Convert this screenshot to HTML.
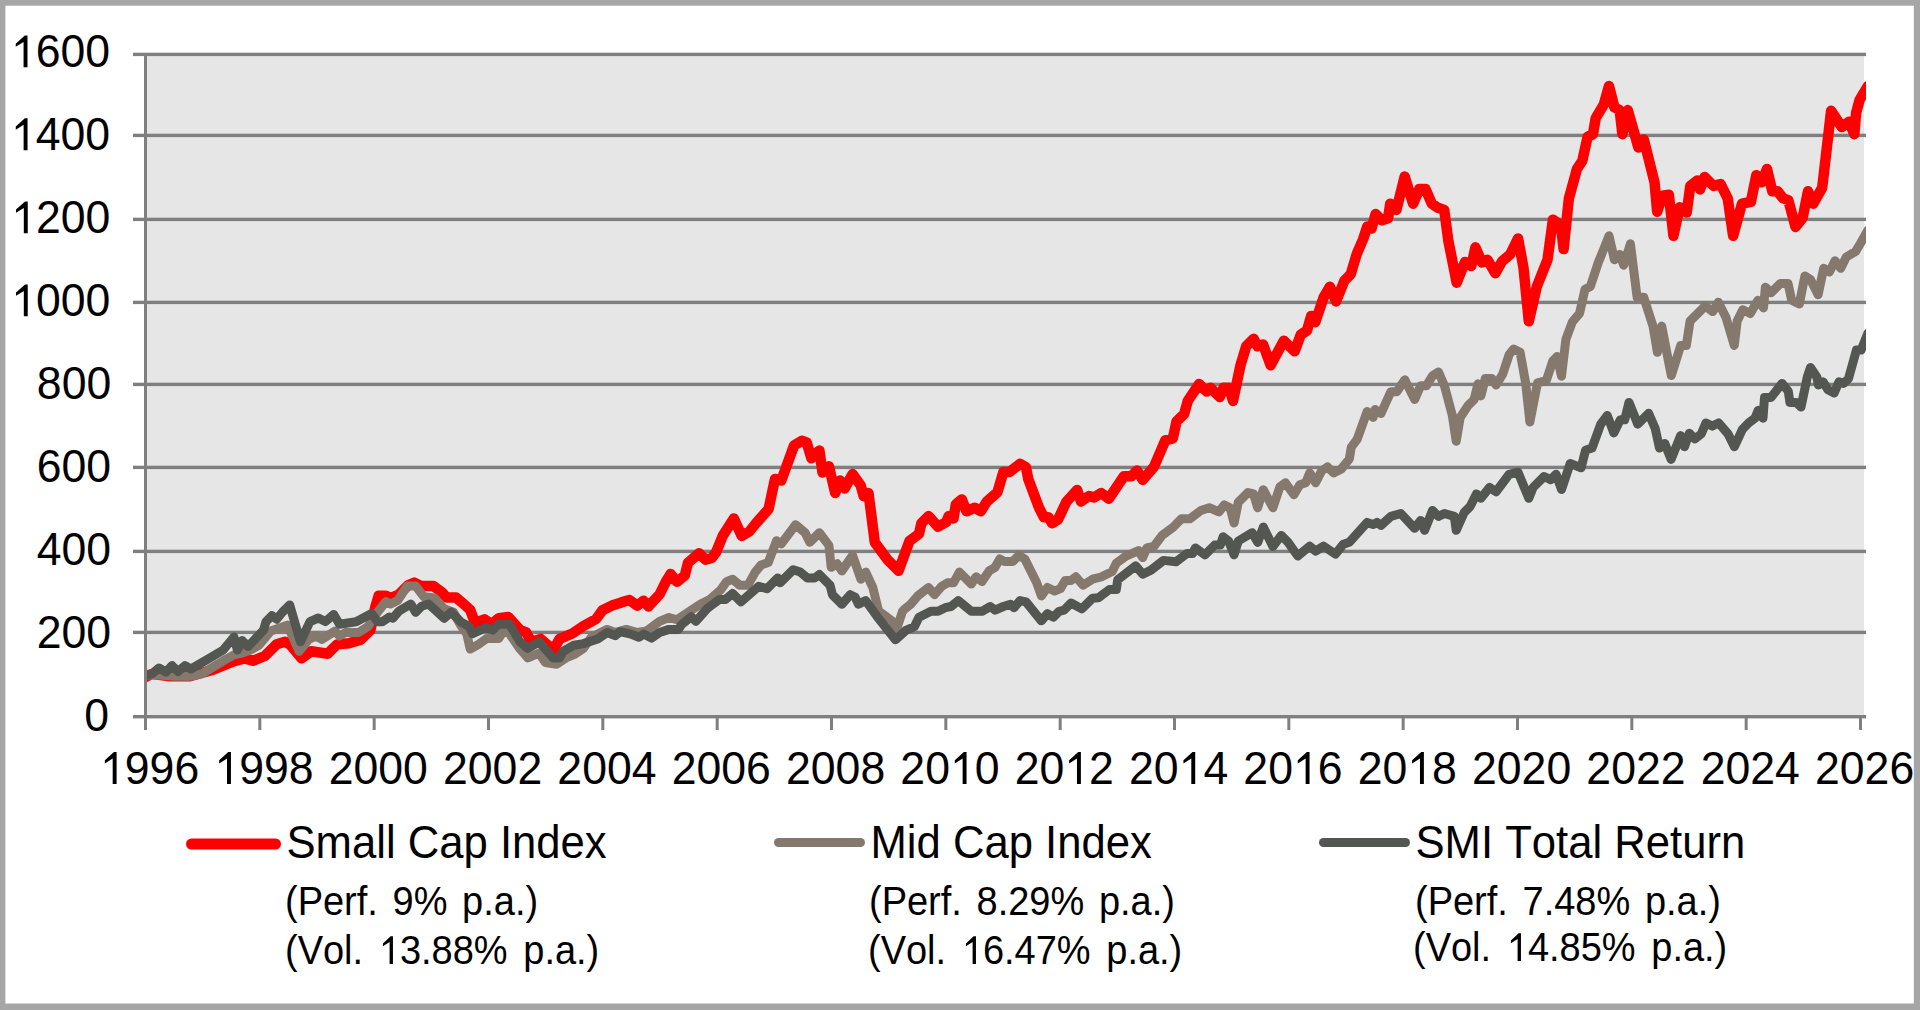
<!DOCTYPE html>
<html><head><meta charset="utf-8"><style>
html,body{margin:0;padding:0;width:1920px;height:1010px;overflow:hidden;background:#a6a6a6;}
svg{position:absolute;left:0;top:0;}
text{font-family:"Liberation Sans",sans-serif;fill:#000;font-kerning:none;}
</style></head><body>
<svg width="1920" height="1010" viewBox="0 0 1920 1010">
<defs><clipPath id="pc"><rect x="147" y="0" width="1719" height="718"/></clipPath></defs>
<rect x="5.4" y="5.7" width="1908.4" height="997.8" fill="#fff"/>
<rect x="147" y="55" width="1717" height="660" fill="#e6e6e6"/>
<rect x="133" y="52.7" width="1733" height="3.4" fill="#7f7f7f"/>
<rect x="133" y="133.7" width="1733" height="3.4" fill="#7f7f7f"/>
<rect x="133" y="217.7" width="1733" height="3.4" fill="#7f7f7f"/>
<rect x="133" y="300.7" width="1733" height="3.4" fill="#7f7f7f"/>
<rect x="133" y="382.7" width="1733" height="3.4" fill="#7f7f7f"/>
<rect x="133" y="465.7" width="1733" height="3.4" fill="#7f7f7f"/>
<rect x="133" y="549.7" width="1733" height="3.4" fill="#7f7f7f"/>
<rect x="133" y="630.7" width="1733" height="3.4" fill="#7f7f7f"/>
<rect x="133" y="715" width="1733" height="3.4" fill="#7f7f7f"/>
<rect x="144" y="53" width="3" height="665" fill="#7f7f7f"/>
<rect x="144.00" y="715" width="3" height="15" fill="#7f7f7f"/>
<rect x="258.33" y="715" width="3" height="15" fill="#7f7f7f"/>
<rect x="372.67" y="715" width="3" height="15" fill="#7f7f7f"/>
<rect x="487.00" y="715" width="3" height="15" fill="#7f7f7f"/>
<rect x="601.33" y="715" width="3" height="15" fill="#7f7f7f"/>
<rect x="715.67" y="715" width="3" height="15" fill="#7f7f7f"/>
<rect x="830.00" y="715" width="3" height="15" fill="#7f7f7f"/>
<rect x="944.33" y="715" width="3" height="15" fill="#7f7f7f"/>
<rect x="1058.67" y="715" width="3" height="15" fill="#7f7f7f"/>
<rect x="1173.00" y="715" width="3" height="15" fill="#7f7f7f"/>
<rect x="1287.33" y="715" width="3" height="15" fill="#7f7f7f"/>
<rect x="1401.67" y="715" width="3" height="15" fill="#7f7f7f"/>
<rect x="1516.00" y="715" width="3" height="15" fill="#7f7f7f"/>
<rect x="1630.33" y="715" width="3" height="15" fill="#7f7f7f"/>
<rect x="1744.67" y="715" width="3" height="15" fill="#7f7f7f"/>
<rect x="1859.00" y="715" width="3" height="15" fill="#7f7f7f"/>
<g clip-path="url(#pc)" fill="none" stroke-linejoin="round" stroke-linecap="round">
<path d="M144.8,677.4 L151.9,673.9 L169.7,676.3 L190.0,676.3 L211.3,670.3 L229.1,663.2 L235.0,660.8 L244.6,658.4 L252.9,660.8 L264.8,656.0 L276.7,644.2 L285.0,641.8 L289.7,644.2 L301.6,658.4 L311.1,651.3 L327.8,653.7 L332.5,648.9 L337.1,644.4 L349.0,643.2 L360.9,639.6 L370.4,630.1 L375.2,607.5 L378.7,595.7 L385.9,595.7 L390.6,598.0 L398.9,594.5 L408.4,585.0 L414.4,582.6 L421.5,586.1 L433.4,586.1 L441.7,592.0 L446.5,597.5 L456.0,597.5 L464.3,604.5 L470.2,609.9 L475.0,623.0 L484.5,619.4 L491.6,624.2 L498.7,618.2 L508.3,617.0 L520.1,630.1 L526.3,632.5 L531.1,642.0 L540.6,638.9 L553.3,650.0 L559.6,638.9 L572.3,633.5 L583.4,626.0 L596.1,619.0 L602.4,610.3 L611.9,605.6 L621.4,602.4 L629.4,600.0 L637.3,605.6 L643.6,600.8 L648.4,606.4 L659.5,594.5 L665.8,581.8 L670.6,573.9 L676.9,581.8 L684.8,575.5 L688.0,562.8 L699.1,553.3 L705.4,559.6 L711.8,558.0 L716.3,551.8 L722.7,535.9 L733.8,518.5 L741.7,535.9 L749.6,531.2 L756.0,523.3 L768.6,509.0 L775.0,478.9 L781.3,480.5 L794.0,445.6 L801.9,440.8 L806.7,442.4 L811.4,458.3 L819.4,450.4 L822.5,472.5 L828.9,466.2 L835.2,493.1 L840.0,480.5 L844.7,488.4 L852.6,474.1 L860.6,485.2 L863.7,496.3 L868.5,493.1 L874.8,542.3 L887.5,559.7 L898.6,570.8 L909.5,541.0 L919.0,533.9 L921.4,523.2 L928.5,516.1 L938.0,526.7 L946.3,522.0 L948.7,516.1 L953.5,518.4 L955.9,504.2 L961.8,499.4 L966.5,511.3 L974.9,507.7 L980.8,511.3 L986.7,501.8 L997.4,492.3 L1003.4,472.1 L1009.3,472.1 L1020.0,463.8 L1026.0,467.3 L1028.3,479.2 L1039.0,507.7 L1043.8,517.2 L1048.5,517.2 L1052.1,523.2 L1058.0,519.6 L1066.4,501.8 L1077.1,489.9 L1081.0,501.5 L1089.0,496.0 L1094.0,497.5 L1101.3,493.1 L1108.8,498.7 L1123.9,476.2 L1131.4,476.2 L1137.0,470.5 L1142.7,479.9 L1154.0,466.8 L1165.3,440.4 L1172.8,438.5 L1176.5,421.6 L1184.1,414.1 L1187.8,400.9 L1199.1,384.0 L1206.7,391.5 L1210.4,387.7 L1219.8,397.1 L1223.6,387.7 L1229.2,387.7 L1233.0,400.9 L1240.5,365.2 L1246.2,346.3 L1253.7,338.8 L1257.5,346.3 L1263.1,344.5 L1270.6,365.2 L1283.8,340.7 L1294.6,351.3 L1300.8,334.6 L1307.0,330.5 L1311.2,315.9 L1315.3,322.2 L1323.7,297.2 L1329.9,286.8 L1336.1,301.4 L1344.4,280.6 L1350.7,274.3 L1356.9,253.6 L1363.2,239.0 L1367.3,226.5 L1371.5,228.6 L1375.6,214.1 L1381.9,220.3 L1388.1,218.2 L1390.2,203.7 L1396.4,209.9 L1404.7,176.6 L1413.1,203.7 L1419.3,189.1 L1425.5,189.1 L1431.8,203.7 L1438.0,207.8 L1444.2,209.9 L1448.4,241.1 L1456.7,282.7 L1465.0,261.9 L1471.3,266.0 L1475.4,247.3 L1482.0,262.5 L1487.4,259.8 L1495.4,273.2 L1502.1,261.2 L1510.1,254.5 L1518.1,238.4 L1523.5,267.9 L1528.8,321.3 L1536.8,286.6 L1547.5,259.8 L1552.9,219.7 L1560.9,225.1 L1563.6,249.1 L1568.9,198.3 L1577.0,168.9 L1582.3,160.9 L1587.6,136.8 L1593.0,134.2 L1595.7,118.1 L1603.7,104.8 L1609.0,86.0 L1614.4,107.4 L1619.7,110.1 L1622.4,134.2 L1627.8,110.1 L1638.4,147.5 L1643.8,139.5 L1654.5,182.3 L1657.2,211.7 L1662.5,195.7 L1668.9,194.8 L1673.4,235.8 L1679.6,207.3 L1686.7,212.6 L1690.3,185.9 L1697.4,180.5 L1700.1,189.4 L1704.6,177.0 L1713.5,185.9 L1720.6,184.1 L1727.7,198.3 L1733.1,235.8 L1742.0,203.7 L1750.9,201.9 L1756.3,175.2 L1761.6,182.3 L1767.0,168.9 L1772.3,191.2 L1777.6,191.2 L1783.0,198.3 L1788.3,200.1 L1795.5,226.9 L1802.6,218.0 L1808.0,191.2 L1813.3,203.7 L1822.2,187.6 L1831.1,110.8 L1841.8,127.0 L1849.0,121.7 L1854.3,134.2 L1856.1,112.8 L1859.6,100.0 L1868.0,86.0" stroke="#ff0000" stroke-width="10.5"/>
<path d="M144.8,675.0 L157.8,675.0 L175.6,676.3 L190.0,676.3 L201.8,673.9 L223.2,660.8 L233.9,654.9 L239.8,653.7 L250.5,650.1 L258.8,645.4 L270.7,631.1 L287.4,625.2 L299.2,651.3 L308.7,639.4 L315.9,635.9 L321.8,639.4 L334.9,631.1 L339.5,636.0 L345.4,632.5 L358.5,632.5 L368.0,626.5 L377.5,612.3 L385.9,601.6 L390.6,604.0 L397.7,600.4 L407.2,586.1 L415.6,586.1 L423.9,596.8 L434.6,598.0 L444.1,608.7 L453.6,612.3 L460.7,625.4 L466.7,633.7 L470.2,649.1 L478.5,644.4 L486.9,638.4 L498.7,638.4 L503.5,631.3 L509.4,633.7 L520.1,649.1 L527.9,657.9 L539.0,653.1 L545.4,662.6 L556.5,664.2 L566.0,657.9 L573.9,654.7 L583.4,648.4 L591.3,637.3 L607.2,629.4 L615.1,632.5 L626.2,629.4 L637.3,632.5 L646.8,630.9 L659.5,621.4 L669.0,617.5 L676.9,619.8 L691.2,610.3 L700.7,604.0 L710.2,599.2 L720.7,589.9 L726.6,581.6 L732.6,579.2 L739.7,585.2 L748.0,585.2 L755.2,572.1 L761.1,565.0 L768.2,562.6 L776.6,540.7 L781.3,543.9 L795.6,524.8 L805.1,532.8 L809.8,542.3 L819.4,532.8 L828.9,545.4 L831.2,567.3 L837.2,563.8 L841.9,570.9 L852.6,555.4 L860.9,579.2 L865.7,572.1 L872.8,587.5 L878.7,611.3 L887.1,617.2 L891.8,620.8 L896.6,629.1 L902.5,611.3 L904.8,608.9 L910.7,604.2 L917.8,595.9 L928.5,587.5 L934.5,594.7 L941.6,586.3 L947.5,582.8 L953.5,582.8 L959.4,572.1 L971.3,584.0 L976.1,576.8 L982.0,581.6 L989.1,570.9 L995.1,567.3 L999.8,559.0 L1004.6,561.4 L1012.9,561.4 L1018.8,555.4 L1024.8,559.0 L1036.7,582.8 L1041.4,595.9 L1047.4,587.5 L1054.5,591.1 L1060.4,588.7 L1065.2,580.4 L1071.1,580.4 L1075.9,576.8 L1083.0,585.2 L1092.5,579.2 L1101.1,577.0 L1112.2,571.5 L1116.3,563.2 L1126.0,556.2 L1138.5,550.7 L1142.7,557.6 L1146.8,547.9 L1153.8,546.5 L1162.1,535.4 L1173.2,527.1 L1181.5,518.8 L1189.8,518.8 L1200.9,510.5 L1209.2,507.7 L1218.9,511.9 L1224.4,504.9 L1230.0,507.7 L1234.1,523.0 L1238.3,502.2 L1248.0,492.5 L1253.5,493.9 L1257.7,507.7 L1263.3,489.7 L1272.9,507.7 L1279.9,486.9 L1285.4,482.8 L1293.9,494.7 L1299.8,484.8 L1305.7,482.8 L1309.7,472.9 L1315.6,482.8 L1321.6,470.9 L1327.5,466.9 L1333.5,472.9 L1341.4,468.9 L1349.3,459.0 L1351.3,447.1 L1357.2,439.2 L1367.1,411.5 L1373.1,417.4 L1375.0,409.5 L1381.0,413.5 L1390.9,391.7 L1396.8,391.7 L1404.8,379.8 L1414.7,399.6 L1420.6,385.7 L1426.5,385.7 L1432.5,375.8 L1438.4,371.9 L1444.4,385.7 L1452.3,415.4 L1456.2,441.2 L1460.2,417.4 L1468.1,405.5 L1474.1,399.6 L1478.0,383.8 L1480.9,395.9 L1485.3,378.4 L1491.8,378.4 L1496.1,385.0 L1502.7,374.1 L1509.2,354.5 L1513.6,349.0 L1520.1,352.3 L1525.6,382.8 L1529.9,422.0 L1537.5,382.8 L1546.3,380.6 L1552.8,361.0 L1557.1,356.6 L1561.5,376.3 L1565.9,339.2 L1572.4,321.8 L1579.6,313.3 L1585.0,289.3 L1590.3,286.6 L1598.3,262.5 L1603.7,249.1 L1609.0,235.8 L1614.4,259.8 L1619.7,254.5 L1623.7,265.2 L1630.4,243.8 L1637.1,297.3 L1643.8,297.3 L1653.0,326.1 L1657.4,352.3 L1661.7,326.1 L1671.3,375.6 L1680.7,345.5 L1686.3,345.5 L1690.1,321.0 L1705.2,306.0 L1712.7,311.6 L1718.3,302.2 L1725.9,317.3 L1734.3,345.5 L1737.2,321.0 L1742.8,309.7 L1750.3,313.5 L1757.9,300.3 L1763.5,307.9 L1765.4,287.2 L1771.0,292.8 L1780.4,283.4 L1788.0,283.4 L1791.7,300.3 L1799.3,304.1 L1804.9,275.9 L1810.5,279.6 L1818.1,294.7 L1823.7,268.3 L1829.4,272.1 L1835.0,260.8 L1840.7,268.3 L1846.3,257.0 L1855.7,251.4 L1859.5,245.0 L1868.0,230.0" stroke="#85796d" stroke-width="9"/>
<path d="M144.8,675.0 L151.9,673.9 L159.0,668.0 L166.0,672.0 L172.0,665.6 L178.0,671.5 L185.0,665.6 L191.0,669.0 L211.3,657.2 L223.2,650.0 L233.9,637.0 L237.4,650.0 L242.2,640.6 L248.1,646.5 L263.6,630.0 L266.0,621.6 L271.9,615.7 L276.7,619.2 L282.6,612.0 L289.7,605.0 L300.4,641.8 L310.0,621.6 L318.3,618.0 L325.4,621.6 L333.7,614.5 L339.5,624.2 L356.1,621.8 L371.6,613.5 L377.5,621.8 L382.3,621.8 L389.4,617.0 L393.0,618.2 L398.9,611.1 L410.8,604.0 L415.6,612.3 L421.5,606.3 L428.6,604.0 L444.1,618.2 L451.2,612.3 L460.7,621.8 L469.0,626.5 L472.6,633.7 L485.7,627.7 L492.8,630.1 L498.7,624.2 L509.4,624.2 L520.1,642.0 L527.9,648.4 L539.0,642.0 L553.3,657.9 L559.6,657.9 L562.8,651.5 L573.9,645.2 L583.4,643.6 L597.7,638.9 L607.2,632.5 L615.1,635.7 L619.8,631.7 L630.9,634.1 L638.9,637.3 L643.6,634.1 L651.5,638.1 L659.5,632.5 L669.0,629.4 L678.5,629.4 L681.6,624.6 L691.2,616.7 L695.9,621.4 L707.0,608.7 L713.3,604.0 L719.5,599.4 L725.4,599.4 L732.6,593.5 L740.9,601.8 L758.7,586.3 L767.0,588.7 L777.7,578.0 L780.1,582.8 L793.2,569.7 L800.3,572.1 L807.4,578.0 L814.6,578.0 L819.3,574.5 L830.0,585.2 L832.4,594.7 L841.9,604.2 L850.2,594.7 L855.0,597.0 L858.5,604.2 L865.7,600.6 L877.6,617.2 L895.4,639.8 L905.9,630.3 L914.3,626.7 L919.0,617.2 L930.9,611.3 L938.0,611.3 L945.2,607.7 L951.1,606.5 L958.2,600.6 L971.3,611.3 L982.0,611.3 L990.3,606.5 L995.1,610.1 L1003.4,606.5 L1010.5,604.2 L1014.1,607.7 L1020.0,600.6 L1026.0,601.8 L1041.4,620.8 L1047.4,613.7 L1053.3,617.2 L1059.2,611.3 L1064.0,610.1 L1071.1,603.0 L1081.8,608.9 L1092.5,598.2 L1098.3,597.8 L1109.4,589.5 L1116.3,589.5 L1117.7,579.8 L1135.7,565.9 L1142.7,574.2 L1151.0,570.1 L1163.5,560.4 L1175.9,561.8 L1187.0,553.5 L1192.6,553.5 L1195.3,547.9 L1205.0,554.8 L1214.7,545.1 L1220.3,545.1 L1223.1,536.8 L1228.6,541.0 L1234.1,554.8 L1238.3,541.0 L1252.2,532.7 L1257.7,542.4 L1263.3,527.1 L1272.9,546.5 L1281.3,535.4 L1287.9,542.2 L1297.8,556.0 L1309.7,546.1 L1315.6,551.1 L1323.6,546.1 L1335.4,554.1 L1343.4,544.2 L1349.3,542.2 L1367.1,522.4 L1373.1,524.4 L1377.0,522.4 L1381.0,525.3 L1390.9,516.4 L1400.8,513.5 L1414.7,528.3 L1420.6,520.4 L1424.6,530.3 L1432.5,510.5 L1438.4,516.4 L1444.4,513.5 L1454.3,516.4 L1456.2,530.3 L1464.2,512.5 L1470.1,506.5 L1476.5,493.9 L1480.9,498.3 L1489.6,487.4 L1496.1,491.7 L1509.2,474.3 L1517.9,472.1 L1528.8,498.3 L1533.2,487.4 L1544.1,476.5 L1550.6,479.7 L1556.1,474.3 L1561.5,489.5 L1570.2,463.4 L1581.1,467.8 L1585.5,450.3 L1592.0,448.1 L1600.7,424.2 L1607.3,415.5 L1613.8,432.9 L1620.3,419.8 L1624.7,419.8 L1629.0,402.4 L1637.8,424.2 L1648.6,413.3 L1655.2,428.5 L1659.5,448.1 L1664.8,443.5 L1671.1,459.4 L1680.6,435.6 L1684.5,446.7 L1689.3,433.2 L1694.8,438.8 L1701.2,434.0 L1705.9,422.9 L1712.3,426.1 L1718.6,422.9 L1728.1,434.0 L1734.4,446.7 L1742.4,429.3 L1748.7,422.9 L1755.0,418.2 L1758.2,410.3 L1763.0,418.2 L1764.5,397.6 L1770.9,397.6 L1782.0,383.4 L1788.3,391.3 L1789.9,402.4 L1796.2,402.4 L1801.0,407.1 L1807.3,377.0 L1810.5,367.5 L1816.8,377.0 L1818.4,384.9 L1823.1,381.8 L1827.9,389.7 L1834.2,392.9 L1839.0,381.8 L1843.7,383.4 L1848.5,378.6 L1856.4,350.1 L1861.1,350.1 L1868.0,333.0" stroke="#545652" stroke-width="9"/>
</g>
<text transform="translate(110.09,67.37) scale(1,1.037)" font-size="44.6" text-anchor="end"> 600</text><path transform="translate(10.875,67.371) scale(0.021777,-0.022583)" d="M763,0 L583,0 L583,1125 L223,912 L223,1050 L640,1413 L763,1413 Z"/>
<text transform="translate(110.14,150.27) scale(1,1.037)" font-size="44.6" text-anchor="end"> 400</text><path transform="translate(10.925,150.271) scale(0.021777,-0.022583)" d="M763,0 L583,0 L583,1125 L223,912 L223,1050 L640,1413 L763,1413 Z"/>
<text transform="translate(110.34,233.32) scale(1,1.037)" font-size="44.6" text-anchor="end"> 200</text><path transform="translate(11.125,233.321) scale(0.021777,-0.022583)" d="M763,0 L583,0 L583,1125 L223,912 L223,1050 L640,1413 L763,1413 Z"/>
<text transform="translate(110.34,316.32) scale(1,1.037)" font-size="44.6" text-anchor="end"> 000</text><path transform="translate(11.125,316.321) scale(0.021777,-0.022583)" d="M763,0 L583,0 L583,1125 L223,912 L223,1050 L640,1413 L763,1413 Z"/>
<text transform="translate(111.24,399.37) scale(1,1.037)" font-size="44.6" text-anchor="end">800</text>
<text transform="translate(111.09,482.22) scale(1,1.037)" font-size="44.6" text-anchor="end">600</text>
<text transform="translate(111.09,565.22) scale(1,1.037)" font-size="44.6" text-anchor="end">400</text>
<text transform="translate(111.09,648.22) scale(1,1.037)" font-size="44.6" text-anchor="end">200</text>
<text transform="translate(109.14,730.92) scale(1,1.037)" font-size="44.6" text-anchor="end">0</text>
<text transform="translate(149.60,784.00) scale(1,1.037)" font-size="44.6" text-anchor="middle"> 996</text><path transform="translate(99.991,784.000) scale(0.021777,-0.022583)" d="M763,0 L583,0 L583,1125 L223,912 L223,1050 L640,1413 L763,1413 Z"/>
<text transform="translate(263.93,784.00) scale(1,1.037)" font-size="44.6" text-anchor="middle"> 998</text><path transform="translate(214.325,784.000) scale(0.021777,-0.022583)" d="M763,0 L583,0 L583,1125 L223,912 L223,1050 L640,1413 L763,1413 Z"/>
<text transform="translate(378.27,784.00) scale(1,1.037)" font-size="44.6" text-anchor="middle">2000</text>
<text transform="translate(492.60,784.00) scale(1,1.037)" font-size="44.6" text-anchor="middle">2002</text>
<text transform="translate(606.93,784.00) scale(1,1.037)" font-size="44.6" text-anchor="middle">2004</text>
<text transform="translate(721.27,784.00) scale(1,1.037)" font-size="44.6" text-anchor="middle">2006</text>
<text transform="translate(835.60,784.00) scale(1,1.037)" font-size="44.6" text-anchor="middle">2008</text>
<text transform="translate(949.93,784.00) scale(1,1.037)" font-size="44.6" text-anchor="middle">20 0</text><path transform="translate(949.933,784.000) scale(0.021777,-0.022583)" d="M763,0 L583,0 L583,1125 L223,912 L223,1050 L640,1413 L763,1413 Z"/>
<text transform="translate(1064.27,784.00) scale(1,1.037)" font-size="44.6" text-anchor="middle">20 2</text><path transform="translate(1064.267,784.000) scale(0.021777,-0.022583)" d="M763,0 L583,0 L583,1125 L223,912 L223,1050 L640,1413 L763,1413 Z"/>
<text transform="translate(1178.60,784.00) scale(1,1.037)" font-size="44.6" text-anchor="middle">20 4</text><path transform="translate(1178.600,784.000) scale(0.021777,-0.022583)" d="M763,0 L583,0 L583,1125 L223,912 L223,1050 L640,1413 L763,1413 Z"/>
<text transform="translate(1292.93,784.00) scale(1,1.037)" font-size="44.6" text-anchor="middle">20 6</text><path transform="translate(1292.933,784.000) scale(0.021777,-0.022583)" d="M763,0 L583,0 L583,1125 L223,912 L223,1050 L640,1413 L763,1413 Z"/>
<text transform="translate(1407.27,784.00) scale(1,1.037)" font-size="44.6" text-anchor="middle">20 8</text><path transform="translate(1407.267,784.000) scale(0.021777,-0.022583)" d="M763,0 L583,0 L583,1125 L223,912 L223,1050 L640,1413 L763,1413 Z"/>
<text transform="translate(1521.60,784.00) scale(1,1.037)" font-size="44.6" text-anchor="middle">2020</text>
<text transform="translate(1635.93,784.00) scale(1,1.037)" font-size="44.6" text-anchor="middle">2022</text>
<text transform="translate(1750.27,784.00) scale(1,1.037)" font-size="44.6" text-anchor="middle">2024</text>
<text transform="translate(1864.60,784.00) scale(1,1.037)" font-size="44.6" text-anchor="middle">2026</text>
<line x1="191.5" y1="844" x2="275.5" y2="844" stroke="#ff0000" stroke-width="11" stroke-linecap="round"/>
<line x1="778.5" y1="842.5" x2="860.5" y2="842.5" stroke="#85796d" stroke-width="9" stroke-linecap="round"/>
<line x1="1323.5" y1="842.5" x2="1405.5" y2="842.5" stroke="#545652" stroke-width="9" stroke-linecap="round"/>
<text transform="translate(286.50,857.80) scale(1,1.063)" font-size="43.65">Small Cap Index</text>
<text transform="translate(285.00,914.50) scale(1,1.055)" font-size="38.0" word-spacing="4.1">(Perf. 9% p.a.)</text>
<text transform="translate(285.00,964.00) scale(1,1.055)" font-size="38.0" word-spacing="5.1">(Vol.  3.88% p.a.)</text><path transform="translate(378.791,964.000) scale(0.018555,-0.019575)" d="M763,0 L583,0 L583,1125 L223,912 L223,1050 L640,1413 L763,1413 Z"/>
<text transform="translate(870.50,857.80) scale(1,1.063)" font-size="43.65">Mid Cap Index</text>
<text transform="translate(869.00,914.50) scale(1,1.055)" font-size="38.0" word-spacing="4.1">(Perf. 8.29% p.a.)</text>
<text transform="translate(868.00,964.00) scale(1,1.055)" font-size="38.0" word-spacing="5.1">(Vol.  6.47% p.a.)</text><path transform="translate(961.791,964.000) scale(0.018555,-0.019575)" d="M763,0 L583,0 L583,1125 L223,912 L223,1050 L640,1413 L763,1413 Z"/>
<text transform="translate(1415.50,857.80) scale(1,1.063)" font-size="43.65">SMI Total Return</text>
<text transform="translate(1415.00,914.50) scale(1,1.055)" font-size="38.0" word-spacing="4.1">(Perf. 7.48% p.a.)</text>
<text transform="translate(1413.00,961.00) scale(1,1.055)" font-size="38.0" word-spacing="5.1">(Vol.  4.85% p.a.)</text><path transform="translate(1506.791,961.000) scale(0.018555,-0.019575)" d="M763,0 L583,0 L583,1125 L223,912 L223,1050 L640,1413 L763,1413 Z"/>
</svg></body></html>
